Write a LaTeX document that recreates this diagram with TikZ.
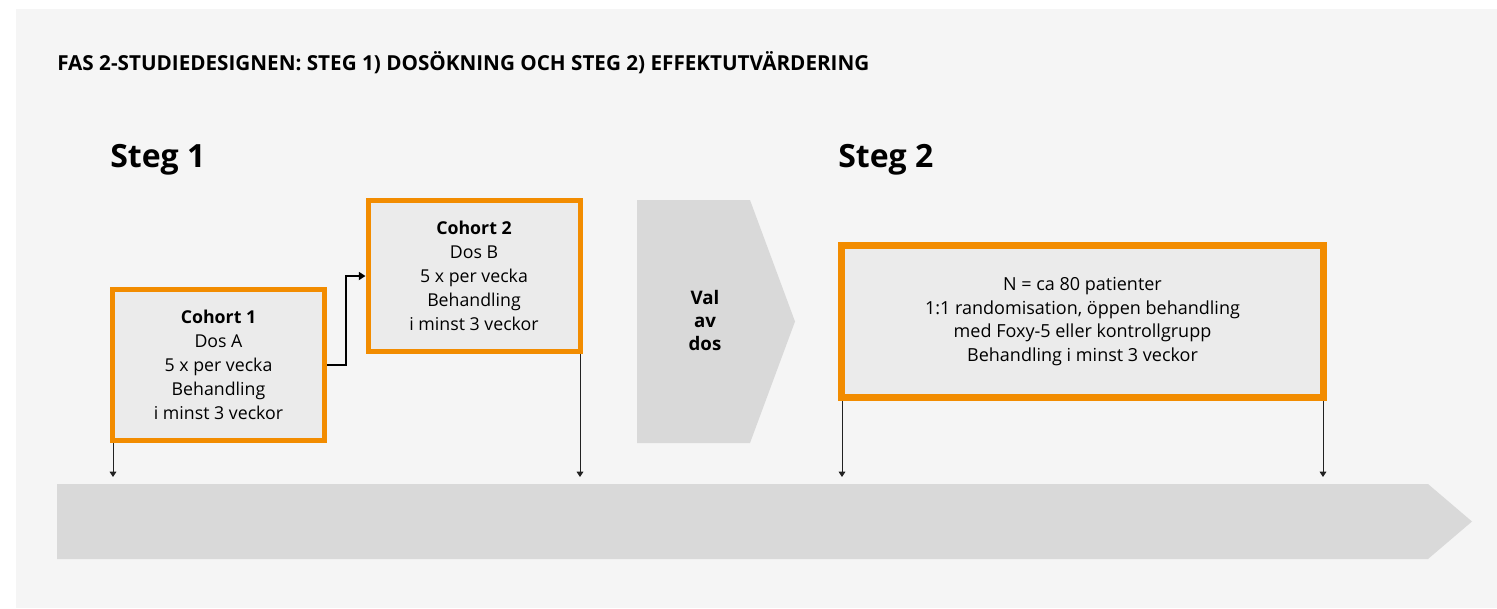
\documentclass[tikz,border=0pt]{standalone}
\usepackage{fontspec}
\setmainfont{Open Sans}
\usetikzlibrary{arrows.meta}
\definecolor{bakgrund}{HTML}{F5F5F5}
\definecolor{rutfyll}{HTML}{EBEBEB}
\definecolor{ljusgra}{HTML}{D9D9D9}
\definecolor{fasorange}{HTML}{F28C00}
\definecolor{mork}{HTML}{222222}
\tikzset{
  kohort/.style={draw=fasorange, line width=3.75pt, fill=rutfyll, align=center, inner sep=0pt,
    font=\fontsize{13.3}{18}\selectfont, minimum width=159pt, minimum height=113.25pt},
  stegruta/.style={draw=fasorange, line width=5.25pt, fill=rutfyll, align=center, inner sep=0pt,
    font=\fontsize{13.5}{17.8}\selectfont, minimum width=361.5pt, minimum height=114pt},
  rubrik/.style={anchor=base west, inner sep=0pt, font=\bfseries\fontsize{24}{28}\selectfont},
  valtext/.style={align=center, inner sep=0pt, font=\bfseries\fontsize{14}{17.25}\selectfont},
  pil/.style={draw=black, line width=1.5pt, -{Triangle[length=5pt,width=6pt]}},
  tunnpil/.style={draw=mork, line width=0.75pt, -{Triangle[length=4pt,width=5pt]}}
}
\begin{document}
\begin{tikzpicture}[x=0.75pt,y=-0.75pt]
    \useasboundingbox (0,0) rectangle (1497,608);
    \fill[white] (0,0) rectangle (1497,608);
    \fill[bakgrund] (16,9) rectangle (1497,608);
    \fill[ljusgra] (57,484) -- (1428,484) -- (1472,521.5) -- (1428,559) -- (57,559) -- cycle;
    \fill[ljusgra] (637,200) -- (750,200) -- (795,321.5) -- (750,443) -- (637,443) -- cycle;
    \draw
    (57,70.5) node[anchor=base west, inner sep=0pt, font=\bfseries\fontsize{15.5}{18}\selectfont] (titel)
        {FAS 2-STUDIEDESIGNEN: STEG 1) DOSÖKNING OCH STEG 2) EFFEKTUTVÄRDERING}
    (110,167.5) node[rubrik] (steg1) {Steg 1}
    (838,167) node[rubrik] (steg2) {Steg 2}
    (218.5,365) node[kohort] (c1) {\textbf{Cohort 1}\\Dos A\\5 x per vecka\\Behandling\\i minst 3 veckor}
    (474,276) node[kohort] (c2) {\textbf{Cohort 2}\\Dos B\\5 x per vecka\\Behandling\\i minst 3 veckor}
    (705,320) node[valtext] (val) {Val\\av\\dos}
    (1082.5,321.5) node[stegruta] (s2) {N = ca 80 patienter\\1:1 randomisation, öppen behandling\\med Foxy-5 eller kontrollgrupp\\Behandling i minst 3 veckor}
    (113,477) coordinate (m1)
    (580,477) coordinate (m2)
    (842,477) coordinate (m3)
    (1323,477) coordinate (m4)
    ;
    \draw[pil] (c1.east) -- ++(19,0) |- (c2.west);
    \draw[tunnpil] (c1.south -| m1) -- (m1);
    \draw[tunnpil] (c2.south -| m2) -- (m2);
    \draw[tunnpil] (s2.south -| m3) -- (m3);
    \draw[tunnpil] (s2.south -| m4) -- (m4);
\end{tikzpicture}
\end{document}
